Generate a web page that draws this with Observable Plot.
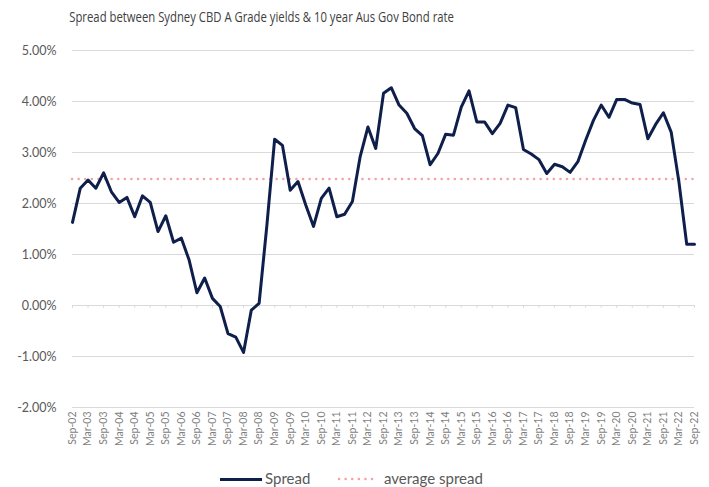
<!DOCTYPE html>
<html>
<head>
<meta charset="utf-8">
<script src="https://cdn.jsdelivr.net/npm/d3@7"></script>
<script src="https://cdn.jsdelivr.net/npm/@observablehq/plot@0.6"></script>
<style>
  html, body { margin: 0; padding: 0; background: #fff; }
  #wrap { position: relative; width: 709px; height: 487px; overflow: hidden; }
  #title { position: absolute; left: 0; top: 7px; width: 524px; text-align: center; }
  #title span { display: inline-block; transform: scaleX(0.78); transform-origin: center;
    font-family: "Open Sans", sans-serif; font-size: 14.5px; color: #404040; white-space: nowrap; }
  #chart { position: absolute; left: 0; top: 30px; }
  #legend { position: absolute; top: 468px; left: 0; width: 709px; height: 22px;
    font-family: Lato, sans-serif; font-size: 15px; color: #595959; }
  .sw { position: absolute; top: 10px; height: 0; }
  .lt { position: absolute; top: 1px; }
</style>
</head>
<body>
<div id="wrap">
  <div id="title"><span>Spread between Sydney CBD A Grade yields &amp; 10 year Aus Gov Bond rate</span></div>
  <div id="chart"></div>
  <div id="legend">
    <div class="sw" style="left:220px;width:42px;border-top:3px solid #0f1f4b;"></div>
    <div class="lt" style="left:265px;">Spread</div>
    <svg class="sw" style="left:337px;top:8px;height:6px;width:40px;overflow:visible"><line x1="2" y1="3" x2="36" y2="3" stroke="#f4a3a3" stroke-width="2.5" stroke-linecap="round" stroke-dasharray="0.1,6.5"/></svg>
    <div class="lt" style="left:384px;">average spread</div>
  </div>
</div>
<script>
// Tick labels (every second quarter, Sep-02 .. Sep-22)
const tickLabels = ["Sep-02","Mar-03","Sep-03","Mar-04","Sep-04","Mar-05","Sep-05","Mar-06","Sep-06","Mar-07",
  "Sep-07","Mar-08","Sep-08","Mar-09","Sep-09","Mar-10","Sep-10","Mar-11","Sep-11","Mar-12",
  "Sep-12","Mar-13","Sep-13","Mar-14","Sep-14","Mar-15","Sep-15","Mar-16","Sep-16","Mar-17",
  "Sep-17","Mar-18","Sep-18","Mar-19","Sep-19","Mar-20","Sep-20","Mar-21","Sep-21","Mar-22","Sep-22"];

// Quarterly spread (%), Sep-02 .. Sep-22
const spread = [1.63,2.30,2.46,2.30,2.60,2.23,2.02,2.12,1.74,2.15,
  2.02,1.45,1.76,1.24,1.32,0.89,0.25,0.54,0.14,-0.02,
  -0.55,-0.62,-0.92,-0.09,0.04,1.57,3.26,3.14,2.26,2.43,
  1.97,1.55,2.10,2.30,1.74,1.79,2.04,2.92,3.50,3.08,
  4.16,4.27,3.93,3.77,3.47,3.33,2.76,2.98,3.36,3.34,
  3.89,4.21,3.60,3.60,3.37,3.57,3.93,3.88,3.06,2.97,
  2.86,2.59,2.77,2.72,2.61,2.82,3.24,3.63,3.93,3.69,
  4.04,4.04,3.97,3.94,3.27,3.55,3.78,3.40,2.42,1.20,1.20];

const averageSpread = 2.48;
const yTicks = [-2, -1, 0, 1, 2, 3, 4, 5];

const data = spread.map((v, i) => ({i, v}));
const tickIdx = tickLabels.map((_, k) => k * 2);

const chart = Plot.plot({
  width: 709,
  height: 430,
  marginLeft: 72,
  marginRight: 15,
  marginTop: 20,
  marginBottom: 53,
  style: {fontFamily: "Lato, sans-serif", color: "#595959", background: "#fff"},
  x: {type: "linear", domain: [0, spread.length - 1]},
  y: {domain: [-2, 5]},
  marks: [
    Plot.gridY(yTicks, {stroke: "#d9d9d9", strokeOpacity: 1, strokeWidth: 1}),
    Plot.ruleX(tickIdx, {x: d => d, y1: 0, y2: -0.055, stroke: "#d9d9d9", strokeWidth: 1}),
    Plot.axisY(yTicks, {tickSize: 0, tickPadding: 16, fontSize: 12.5, fill: "#595959",
      tickFormat: d => d.toFixed(2) + "%", label: null}),
    Plot.axisX(tickIdx, {tickSize: 0, tickPadding: 4, tickRotate: -90, fontSize: 10.5, fill: "#7f7f7f",
      tickFormat: d => tickLabels[d / 2], label: null}),
    Plot.ruleY([averageSpread], {stroke: "#f4a3a3", strokeWidth: 2.5, strokeDasharray: "0.1,6.5", strokeLinecap: "round"}),
    Plot.line(data, {x: "i", y: "v", stroke: "#0f1f4b", strokeWidth: 3, strokeLinejoin: "round"})
  ]
});
document.getElementById("chart").appendChild(chart);
</script>
</body>
</html>
